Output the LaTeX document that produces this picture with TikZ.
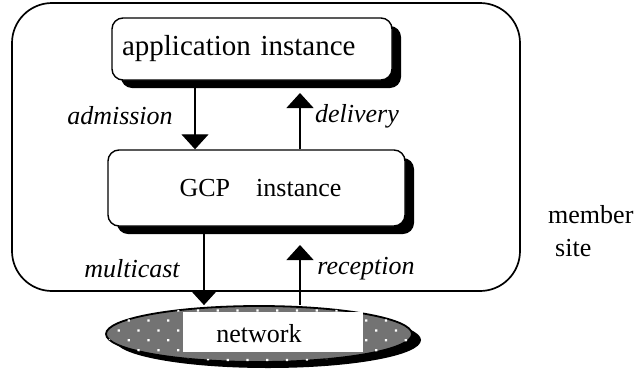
\documentclass[tikz,border=0pt]{standalone}
\usepackage{fontspec}
\setmainfont{Liberation Serif}
\usetikzlibrary{arrows.meta,shapes.geometric,shadows,patterns.meta}

\tikzdeclarepattern{
name=netdots,
type=uncolored,
bounding box={(-7pt,-7pt) and (7pt,7pt)},
tile size={(14pt,14pt)},
tile transformation={rotate=45},
code={\fill (0pt,0pt) circle (1.6pt);}
}

\tikzset{
blackshadow/.style={drop shadow={shadow xshift=9pt, shadow yshift=-8pt, fill=black, opacity=1}},
procbox/.style={draw, line width=1.4pt, rounded corners=11pt, fill=white, blackshadow},
flow/.style={line width=1.3pt, -{Triangle[width=27pt,length=15pt]}},
flowlabel/.style={font=\fontsize{26}{30}\selectfont\itshape},
}

\begin{document}
\begin{tikzpicture}[x=1pt,y=-1pt]
\useasboundingbox (0,0) rectangle (637,370);

\node[draw, line width=1.7pt, rounded corners=40pt, minimum width=508pt, minimum height=288pt] (frame) at (266,147) {};

\node[procbox, text width=260pt, inner xsep=10pt, align=left, minimum height=62pt, font=\fontsize{29}{34}\selectfont] (app) at (252,49) {application instance};
\node[procbox, minimum width=297pt, minimum height=76pt, font=\fontsize{26}{30}\selectfont] (gcp) at (256.5,188) {\hspace*{8pt}GCP\quad instance};

\node[ellipse, draw, line width=1.8pt, minimum width=306pt, minimum height=56pt, fill=black!55,
  drop shadow={shadow xshift=9pt, shadow yshift=-6pt, fill=black, opacity=1},
  postaction={pattern=netdots, pattern color=white}] (net) at (259,334) {};
\node[fill=white, minimum width=180pt, minimum height=40pt] (netbox) at (273,332) {};
\node[font=\fontsize{26}{30}\selectfont] (netlabel) at (259,334) {network};

\coordinate (dtip) at (300,93);
\coordinate (rtip) at (300,245);

\draw[flow] (app.south -| 195,0) -- (gcp.north -| 195,0);
\draw[flow] (gcp.north -| dtip) -- (dtip);
\draw[flow] (gcp.south -| 204,0) -- (net.north -| 204,0);
\draw[flow] (net.north -| rtip) -- (rtip);

\node[flowlabel] (adm) at (120,116) {admission};
\node[flowlabel] (del) at (357,116) {delivery};
\node[flowlabel] (mul) at (132,269) {multicast};
\node[flowlabel] (rec) at (366,269) {reception};

\node[font=\fontsize{26}{33}\selectfont, align=left, anchor=north west, inner sep=0pt] (site) at (548,205) {member\\\hspace*{7pt}site};
\end{tikzpicture}
\end{document}
